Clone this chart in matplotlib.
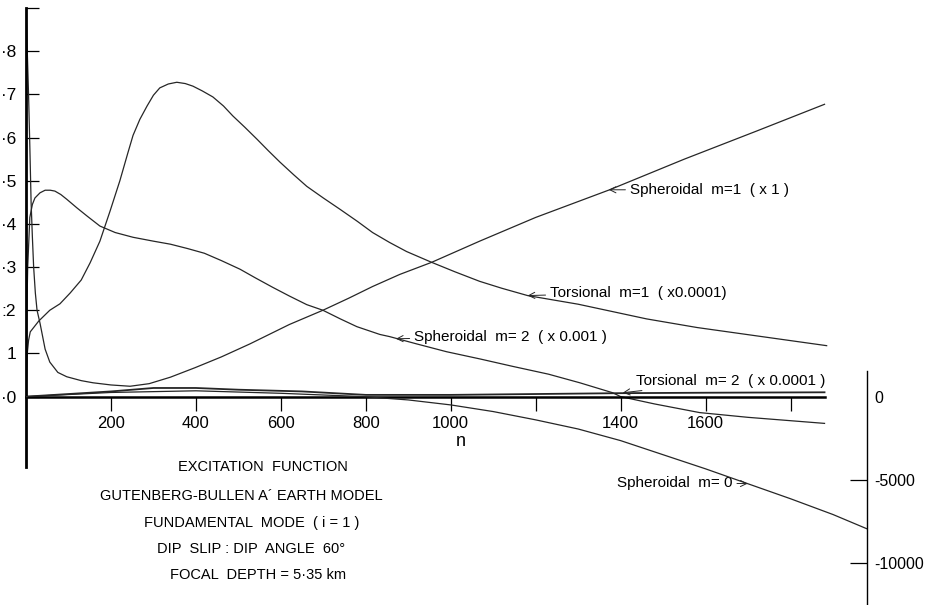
import matplotlib
matplotlib.use("Agg")
import matplotlib.pyplot as plt

plt.rcParams['font.family'] = ['Liberation Sans', 'DejaVu Sans']
plt.rcParams['axes.unicode_minus'] = False

# excitation function vs. angular order n (fundamental mode)
# left scale: torsional / spheroidal m=1,2 ; right scale: spheroidal m=0
n_tor1 = [0, 3, 6, 10, 30, 56, 80, 104, 130, 151, 174, 198, 221, 240, 252, 268, 285, 300,
          315, 335, 355, 375, 393, 415, 440, 465, 487, 515, 544, 570, 598, 630, 661, 700,
          739, 780, 816, 856, 896, 955, 1010, 1068, 1120, 1181, 1300, 1461, 1580, 1696, 1885]
tor1 = [0.0, 0.10, 0.13, 0.15, 0.175, 0.20, 0.215, 0.24, 0.27, 0.31, 0.36, 0.43, 0.50, 0.565,
        0.605, 0.642, 0.673, 0.698, 0.715, 0.724, 0.728, 0.725, 0.719, 0.708, 0.694, 0.673,
        0.65, 0.624, 0.596, 0.57, 0.543, 0.514, 0.487, 0.46, 0.434, 0.406, 0.38, 0.357,
        0.336, 0.311, 0.289, 0.267, 0.251, 0.234, 0.214, 0.18, 0.16, 0.144, 0.118]

n_sph2 = [0, 2, 4, 9, 15, 21, 33, 45, 57, 68, 82, 96, 120, 144, 174, 210, 252, 300, 340,
          380, 420, 460, 504, 540, 581, 620, 661, 699, 740, 779, 833, 856, 920, 990, 1070,
          1146, 1230, 1304, 1381, 1400, 1480, 1586, 1700, 1880]
sph2 = [0.0, 0.2, 0.3, 0.415, 0.445, 0.46, 0.472, 0.478, 0.478, 0.476, 0.468, 0.457, 0.437,
        0.418, 0.395, 0.38, 0.369, 0.36, 0.353, 0.343, 0.332, 0.315, 0.295, 0.275, 0.253,
        0.233, 0.213, 0.2, 0.18, 0.162, 0.144, 0.139, 0.122, 0.104, 0.087, 0.07, 0.052,
        0.032, 0.009, 0.0, -0.017, -0.037, -0.048, -0.062]

n_sph1 = [0, 3, 6, 9, 12, 15, 18, 22, 26, 33, 45, 56, 75, 96, 130, 158, 200, 245, 290,
          340, 398, 460, 527, 558, 620, 699, 760, 816, 880, 955, 1068, 1200, 1374, 1550,
          1720, 1880]
sph1 = [0.9, 0.8, 0.7, 0.58, 0.45, 0.37, 0.3, 0.24, 0.2, 0.17, 0.11, 0.08, 0.056, 0.046,
        0.037, 0.032, 0.027, 0.024, 0.03, 0.045, 0.067, 0.092, 0.122, 0.137, 0.167, 0.2,
        0.228, 0.255, 0.283, 0.311, 0.36, 0.415, 0.479, 0.55, 0.615, 0.677]

n_tor2 = [0, 100, 200, 300, 400, 500, 650, 800, 1000, 1200, 1400, 1600, 1880]
tor2 = [0.0, 0.006, 0.012, 0.02, 0.02, 0.016, 0.012, 0.004, 0.004, 0.006, 0.008, 0.009, 0.01]

n_sph0 = [0, 200, 400, 600, 795, 900, 1000, 1100, 1200, 1300, 1400, 1500, 1600, 1700,
          1800, 1900, 1979]
sph0 = [0, 250, 350, 200, 0, -200, -500, -900, -1400, -1950, -2650, -3500, -4350, -5250,
        -6150, -7100, -7950]

left_ticks = [0.0, 0.1, 0.2, 0.3, 0.4, 0.5, 0.6, 0.7, 0.8, 0.9]
left_labels = ['·0', '1', ':2', '·3', '·4', '·5', '·6', '·7', '·8', '']
n_ticks = [200, 400, 600, 800, 1000, 1200, 1400, 1600, 1800]
n_labels = ['200', '400', '600', '800', '1000', '', '1400', '1600', '']
right_ticks = [0, -5000, -10000]
right_labels = ['0', '-5000', '-10000']

title_lines = ["EXCITATION  FUNCTION",
               "GUTENBERG-BULLEN A\u00b4 EARTH MODEL",
               "FUNDAMENTAL  MODE  ( i = 1 )",
               "DIP  SLIP : DIP  ANGLE  60\u00b0",
               "FOCAL  DEPTH = 5\u00b735 km"]

W, H = 925, 605
fig = plt.figure(figsize=(W / 100, H / 100), dpi=100)
ylo, yhi = -0.4826, 0.9
ax = fig.add_axes([26 / W, 0, 841 / W, 597 / H])
ax.set_xlim(0, 1980)
ax.set_ylim(ylo, yhi)
ax.patch.set_alpha(0)

ink = '#262626'
lw = 0.9
ax.plot(n_tor1, tor1, color=ink, lw=lw)
ax.plot(n_sph2, sph2, color=ink, lw=lw)
ax.plot(n_sph1, sph1, color=ink, lw=lw)
ax.plot(n_tor2, tor2, color=ink, lw=1.3)

# right hand scale for m=0, zero shared with the left scale
k = 26000
ax2 = ax.twinx()
ax2.set_ylim(ylo * k, yhi * k)
ax2.plot(n_sph0, sph0, color=ink, lw=lw)

for s in ['top', 'right']:
    ax.spines[s].set_visible(False)
ax.spines['left'].set_bounds(-0.162, 0.9)
ax.spines['left'].set_linewidth(2.0)
ax.spines['bottom'].set_position(('data', 0))
ax.spines['bottom'].set_bounds(0, 1880)
ax.spines['bottom'].set_linewidth(1.8)

ax.set_yticks(left_ticks)
ax.set_yticklabels(left_labels)
ax.tick_params(axis='y', direction='in', length=9, width=0.9, pad=7, labelsize=12.5)
ax.set_xticks(n_ticks)
ax.set_xticklabels(n_labels)
ax.tick_params(axis='x', direction='out', length=10, width=0.9, pad=4, labelsize=12)
ax.text(1024, -0.104, 'n', fontsize=13, ha='center', va='center')

for s in ['top', 'left', 'bottom']:
    ax2.spines[s].set_visible(False)
ax2.spines['right'].set_bounds(ylo * k, 1565)
ax2.spines['right'].set_linewidth(1.0)
ax2.set_yticks(right_ticks)
ax2.set_yticklabels(right_labels)
ax2.tick_params(axis='y', direction='in', length=12, width=0.9, pad=5, labelsize=11.5)
for t in ax2.yaxis.get_major_ticks():
    if t.get_loc() == 0:
        t.tick2line.set_visible(False)

arrow = dict(arrowstyle='->', lw=0.7, color=ink, shrinkA=1, shrinkB=0)
fs = 11
ax.annotate('Spheroidal  m=1  ( x 1 )', xy=(1372, 0.479), xytext=(1421, 0.479),
            fontsize=fs, va='center', ha='left', arrowprops=arrow)
ax.annotate('Torsional  m=1  ( x0.0001)', xy=(1181, 0.234), xytext=(1233, 0.241),
            fontsize=fs, va='center', ha='left', arrowprops=arrow)
ax.annotate('Spheroidal  m= 2  ( x 0.001 )', xy=(871, 0.134), xytext=(913, 0.139),
            fontsize=fs, va='center', ha='left', arrowprops=arrow)
ax.annotate('Torsional  m= 2  ( x 0.0001 )', xy=(1405, 0.009), xytext=(1435, 0.037),
            fontsize=fs, va='center', ha='left', arrowprops=arrow)
ax.annotate('Spheroidal  m= 0', xy=(1699, -0.2015), xytext=(1664, -0.199),
            fontsize=fs, va='center', ha='right', arrowprops=arrow)

ys = [467, 496, 523, 549, 575]
xs = [263, 241, 252, 251, 258]
for line, x, y in zip(title_lines, xs, ys):
    fig.text(x / W, 1 - y / H, line, fontsize=10.5, ha='center', va='center')

fig.savefig('out.png', dpi=100)
